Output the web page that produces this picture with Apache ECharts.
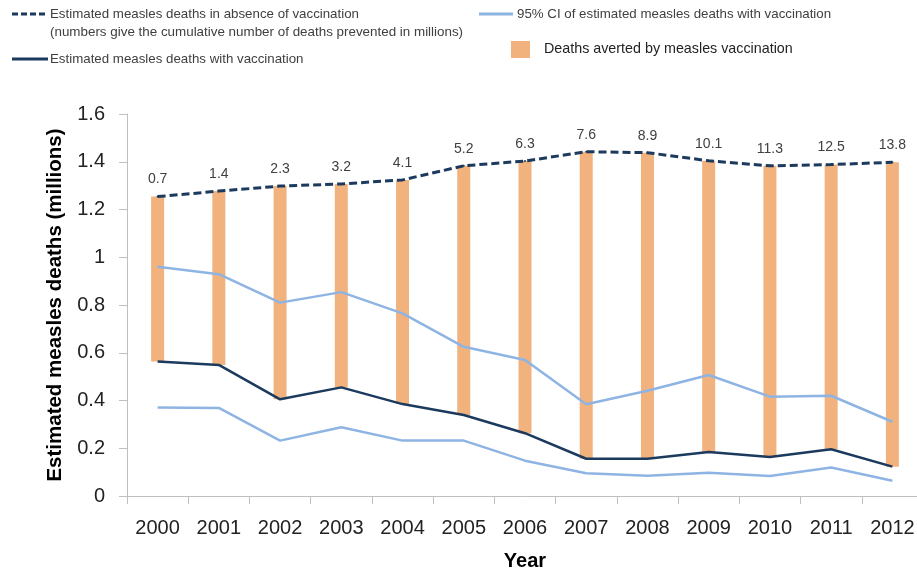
<!DOCTYPE html>
<html>
<head>
<meta charset="utf-8">
<script src="https://cdn.jsdelivr.net/npm/echarts@6/dist/echarts.min.js"></script>
<style>
html,body{margin:0;padding:0;background:#fff;}
#chart{width:917px;height:571px;}
</style>
</head>
<body>
<div id="chart"></div>
<script>
const years = ['2000','2001','2002','2003','2004','2005','2006','2007','2008','2009','2010','2011','2012'];
const noVacc = [1.254,1.277,1.298,1.307,1.324,1.383,1.403,1.442,1.438,1.404,1.383,1.388,1.398];
const withVacc = [0.563,0.549,0.405,0.455,0.385,0.339,0.263,0.156,0.156,0.184,0.163,0.196,0.123];
const ciUpper = [0.960,0.929,0.810,0.854,0.765,0.625,0.570,0.384,0.441,0.507,0.416,0.420,0.311];
const ciLower = [0.371,0.369,0.232,0.288,0.232,0.232,0.148,0.095,0.085,0.097,0.084,0.119,0.064];
const cumulative = ['0.7','1.4','2.3','3.2','4.1','5.2','6.3','7.6','8.9','10.1','11.3','12.5','13.8'];
const yTicks = [0,0.2,0.4,0.6,0.8,1,1.2,1.4,1.6];

const averted = noVacc.map((v,i)=>+(v - withVacc[i]).toFixed(3));

const DARK = '#1B3A5E';
const LIGHT = '#8EB4E3';
const ORANGE = '#F1B27E';
const FONT = 'Liberation Sans';
const TXT = '#404040';

const chart = echarts.init(document.getElementById('chart'));
chart.setOption({
  animation:false,
  backgroundColor:'#fff',
  grid:{left:127,right:-6,top:114,bottom:75,outerBoundsMode:'none',containLabel:false},
  xAxis:{
    type:'category',data:years,boundaryGap:true,
    name:'Year',nameLocation:'middle',nameGap:55,
    nameTextStyle:{fontFamily:FONT,fontSize:20,fontWeight:'bold',color:'#000'},
    axisLine:{lineStyle:{color:'#BFBFBF',width:1}},
    axisTick:{show:true,length:8,lineStyle:{color:'#BFBFBF'}},
    axisLabel:{fontFamily:FONT,fontSize:20,color:'#222',margin:22}
  },
  yAxis:{
    type:'value',min:0,max:1.6,interval:0.2,
    name:'Estimated measles deaths (millions)',nameLocation:'middle',nameGap:47,
    nameTextStyle:{fontFamily:FONT,fontSize:20.5,fontWeight:'bold',color:'#000'},
    axisLine:{show:true,lineStyle:{color:'#BFBFBF',width:1}},
    axisTick:{show:true,length:8,lineStyle:{color:'#BFBFBF'}},
    splitLine:{show:false},
    axisLabel:{fontFamily:FONT,fontSize:20,color:'#222',margin:22,
      formatter:v=>{const t=yTicks.find(x=>Math.abs(x-v)<1e-9);return String(t!==undefined?t:v);}}
  },
  series:[
    {type:'bar',stack:'a',data:withVacc,barWidth:13,itemStyle:{color:'transparent'},silent:true},
    {type:'bar',stack:'a',data:averted,barWidth:13,itemStyle:{color:ORANGE}},
    {type:'line',data:ciUpper,symbol:'none',lineStyle:{color:LIGHT,width:2.5},z:3},
    {type:'line',data:ciLower,symbol:'none',lineStyle:{color:LIGHT,width:2.5},z:3},
    {type:'line',data:withVacc,symbol:'none',lineStyle:{color:DARK,width:2.5},z:4},
    {type:'line',data:noVacc,symbol:'circle',symbolSize:2,showSymbol:true,itemStyle:{color:DARK},
      lineStyle:{color:DARK,width:3,type:[8,4]},z:4,
      label:{show:true,position:'top',distance:9,fontFamily:FONT,fontSize:14,color:TXT,
        formatter:p=>cumulative[p.dataIndex]}}
  ],
  graphic:[
    {type:'line',shape:{x1:12,y1:14,x2:48,y2:14},style:{stroke:DARK,lineWidth:3,lineDash:[6,3]}},
    {type:'text',x:50,y:14,style:{text:'Estimated measles deaths in absence of vaccination',fontFamily:FONT,fontSize:13.3,fill:TXT,verticalAlign:'middle'}},
    {type:'text',x:50,y:32,style:{text:'(numbers give the cumulative number of deaths prevented in millions)',fontFamily:FONT,fontSize:13.4,fill:TXT,verticalAlign:'middle'}},
    {type:'line',shape:{x1:12,y1:59,x2:48,y2:59},style:{stroke:DARK,lineWidth:3}},
    {type:'text',x:50,y:59,style:{text:'Estimated measles deaths with vaccination',fontFamily:FONT,fontSize:13.3,fill:TXT,verticalAlign:'middle'}},
    {type:'line',shape:{x1:479,y1:14,x2:513,y2:14},style:{stroke:LIGHT,lineWidth:3}},
    {type:'text',x:517,y:14,style:{text:'95% CI of estimated measles deaths with vaccination',fontFamily:FONT,fontSize:13.3,fill:TXT,verticalAlign:'middle'}},
    {type:'rect',shape:{x:511,y:41,width:19,height:17},style:{fill:ORANGE}},
    {type:'text',x:544,y:49,style:{text:'Deaths averted by measles vaccination',fontFamily:FONT,fontSize:14.3,fill:'#222',verticalAlign:'middle'}}
  ]
});
</script>
</body>
</html>
